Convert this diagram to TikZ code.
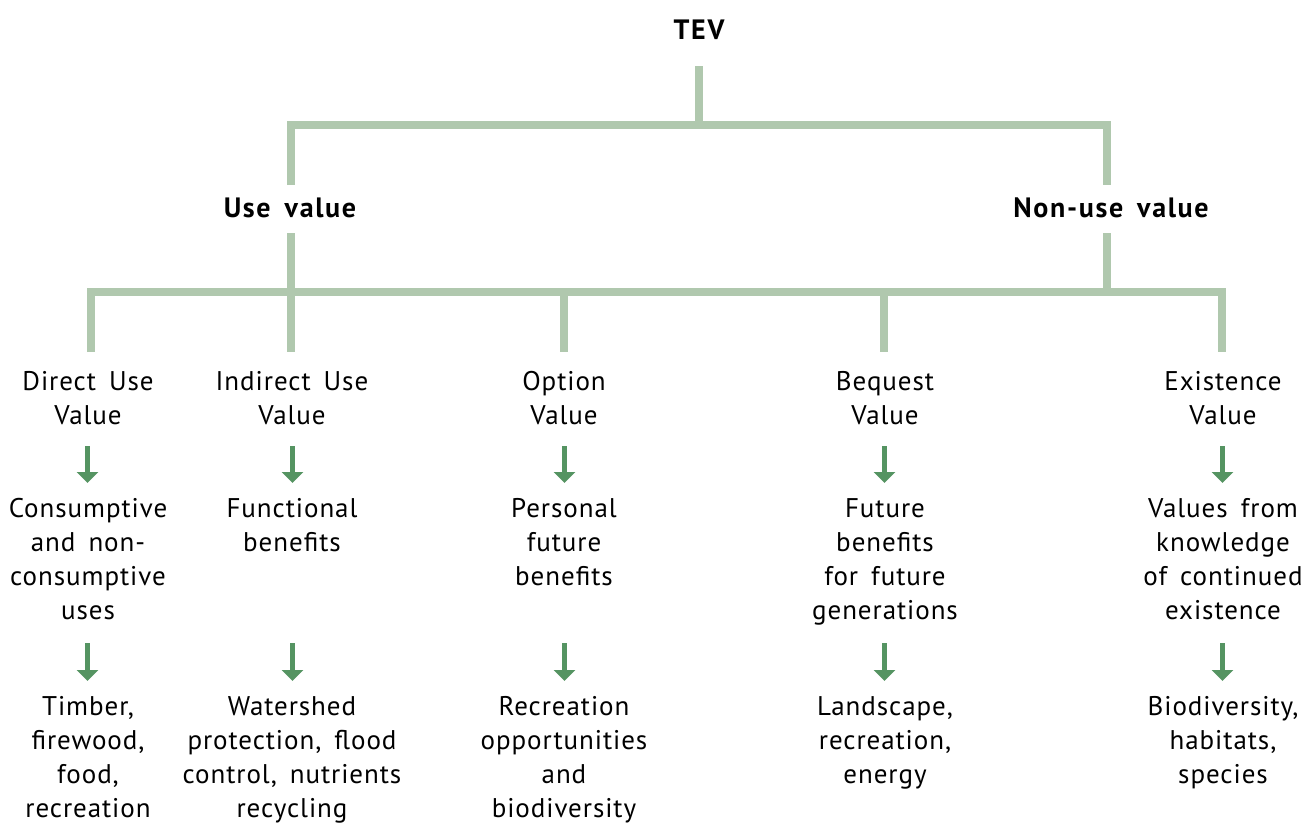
\documentclass[tikz,border=0pt]{standalone}
\usepackage{fontspec}
\setmainfont{PT Sans}[LetterSpace=3.5,WordSpace=1.6]
\usetikzlibrary{arrows.meta}
\definecolor{treeline}{RGB}{176,200,174}
\definecolor{arrowgreen}{RGB}{85,148,98}
\tikzset{
  tree/.style={draw=treeline, line width=8pt, line join=miter, line cap=butt},
  arr/.style={draw=arrowgreen, line width=5pt, -{Triangle[width=21pt,length=11pt]}},
  heading/.style={font=\fontsize{28}{34}\selectfont\bfseries\addfontfeatures{LetterSpace=6}, inner sep=0pt, anchor=base},
  label/.style={font=\fontsize{27}{34}\selectfont, align=center, inner sep=0pt, anchor=base},
}
\begin{document}
\begin{tikzpicture}[x=1pt,y=-1pt]
\useasboundingbox (0,0) rectangle (1302,825);
% headings
\node[heading] (tev) at (699,39) {TEV};
\node[heading] (use) at (290,217) {Use value};
\node[heading] (nonuse) at (1111,217) {Non-use value};
% tree junction coordinates
\coordinate (t0) at (699,66);
\coordinate (t1) at (699,124.5);
\coordinate (ul) at (291,124.5);
\coordinate (ur) at (1107,124.5);
\coordinate (u1) at (291,185);
\coordinate (n1) at (1107,185);
\coordinate (u2) at (291,233);
\coordinate (n2) at (1107,233);
\coordinate (n3) at (1107,292);
\coordinate (c1t) at (91,292);
\coordinate (c5t) at (1222,292);
\coordinate (c1b) at (91,352);
\coordinate (c2b) at (291,352);
\coordinate (c3t) at (564,292);
\coordinate (c3b) at (564,352);
\coordinate (c4t) at (884,292);
\coordinate (c4b) at (884,352);
\coordinate (c5b) at (1222,352);
\draw[tree] (t0) -- (t1);
\draw[tree] (u1) -- (ul) -- (ur) -- (n1);
\draw[tree] (u2) -- (c2b);
\draw[tree] (n2) -- (n3);
\draw[tree] (c1b) -- (c1t) -- (c5t) -- (c5b);
\draw[tree] (c3t) -- (c3b);
\draw[tree] (c4t) -- (c4b);
% category labels (anchor = baseline of last line)
\node[label] (d1) at (88,424) {Direct Use\\Value};
\node[label] (d2) at (292,424) {Indirect Use\\Value};
\node[label] (d3) at (564,424) {Option\\Value};
\node[label] (d4) at (885,424) {Bequest\\Value};
\node[label] (d5) at (1223,424) {Existence\\Value};
% second row
\node[label] (e1) at (88,619) {Consumptive\\and non-\\consumptive\\uses};
\node[label] (e2) at (292,551) {Functional\\benefits};
\node[label] (e3) at (564,585) {Personal\\future\\benefits};
\node[label] (e4) at (885,619) {Future\\benefits\\for future\\generations};
\node[label] (e5) at (1223,619) {Values from\\knowledge\\of continued\\existence};
% third row
\node[label] (f1) at (88,817) {Timber,\\firewood,\\food,\\recreation};
\node[label] (f2) at (292,817) {Watershed\\protection, flood\\control, nutrients\\recycling};
\node[label] (f3) at (564,817) {Recreation\\opportunities\\and\\biodiversity};
\node[label] (f4) at (885,783) {Landscape,\\recreation,\\energy};
\node[label] (f5) at (1223,783) {Biodiversity,\\habitats,\\species};
% arrows
\foreach \i/\x in {1/87.5,2/292.5,3/564.5,4/884.5,5/1222.5}{
  \coordinate (a\i) at (\x,446);
  \coordinate (b\i) at (\x,483);
  \coordinate (p\i) at (\x,643);
  \coordinate (q\i) at (\x,681);
  \draw[arr] (a\i) -- (b\i);
  \draw[arr] (p\i) -- (q\i);
}
\end{tikzpicture}
\end{document}
